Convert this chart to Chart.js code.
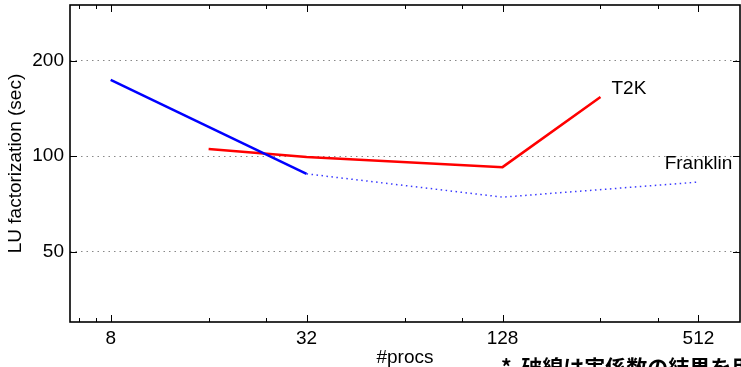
<!DOCTYPE html>
<html><head><meta charset="utf-8">
<script src="https://cdn.jsdelivr.net/npm/chart.js@4/dist/chart.umd.min.js"></script>
<style>html,body{margin:0;padding:0;background:#fff;overflow:hidden;}#wrap{width:741px;height:367px;position:relative;}</style>
</head><body><div id="wrap"><canvas id="c" width="741" height="367"></canvas></div>
<script>
const franklinProcs = [8, 32, 128, 512];
const franklinTimes = [174, 88, 74.3, 82.9];
const t2kProcs = [16, 32, 128, 256];
const t2kTimes = [105.4, 99.5, 92.4, 153.7];
const xTickValues = [8, 32, 128, 512];
const xMinorTickValues = [6.4, 7.2, 16, 24, 64, 96, 256, 384];
const yTickValues = [50, 100, 200];
const seriesNames = ['Franklin', 'T2K'];
const xTitle = '#procs';
const yTitle = 'LU factorization (sec)';
const note = '*  破線は実係数の結果を用いた';

const FONT = '"Liberation Sans", Arial, sans-serif';

const frameAxes = {
  id: 'frameAxes',
  afterDraw(chart) {
    const {ctx, chartArea: a, scales: {x, y}} = chart;
    ctx.save();
    ctx.strokeStyle = '#000';
    ctx.lineWidth = 1;
    const seg = (x0, y0, x1, y1) => { ctx.beginPath(); ctx.moveTo(x0, y0); ctx.lineTo(x1, y1); ctx.stroke(); };
    xTickValues.forEach(v => { const p = Math.round(x.getPixelForValue(v)) + 0.5; seg(p, a.bottom, p, a.bottom - 7); seg(p, a.top, p, a.top + 7); });
    xMinorTickValues.forEach(v => { const p = Math.round(x.getPixelForValue(v)) + 0.5; seg(p, a.bottom, p, a.bottom - 4); seg(p, a.top, p, a.top + 4); });
    yTickValues.forEach(v => { const p = Math.round(y.getPixelForValue(v)) + 0.5; seg(a.left, p, a.left + 7, p); seg(a.right, p, a.right - 7, p); });
    ctx.lineWidth = 1.6;
    ctx.strokeRect(a.left, a.top, a.right - a.left, a.bottom - a.top);

    ctx.fillStyle = '#000';
    ctx.font = '19px ' + FONT;
    ctx.textBaseline = 'middle';
    const tMeta = chart.getDatasetMeta(1).data;
    const tEnd = tMeta[tMeta.length - 1];
    ctx.textAlign = 'left';
    ctx.fillText(seriesNames[1], tEnd.x + 11, tEnd.y - 8);
    const fMeta = chart.getDatasetMeta(0).data;
    const fEnd = fMeta[fMeta.length - 1];
    ctx.textAlign = 'center';
    ctx.fillText(seriesNames[0], fEnd.x, fEnd.y - 18);

    ctx.font = 'bold 21px "Noto Sans CJK JP", sans-serif';
    ctx.textAlign = 'left';
    ctx.textBaseline = 'top';
    ctx.fillText(note, 501, 357);
    ctx.restore();
  }
};

new Chart(document.getElementById('c'), {
  type: 'line',
  data: {
    datasets: [
      {
        label: seriesNames[0],
        data: franklinProcs.map((p, i) => ({x: p, y: franklinTimes[i]})),
        borderColor: '#0000ff',
        borderWidth: 2.5,
        pointRadius: 0,
        segment: {
          borderDash: c => c.p0DataIndex >= 1 ? [1.5, 3.5] : undefined,
          borderWidth: c => c.p0DataIndex >= 1 ? 1.5 : undefined,
          borderColor: c => c.p0DataIndex >= 1 ? '#3a3aff' : undefined
        }
      },
      {
        label: seriesNames[1],
        data: t2kProcs.map((p, i) => ({x: p, y: t2kTimes[i]})),
        borderColor: '#ff0000',
        borderWidth: 2.5,
        pointRadius: 0
      }
    ]
  },
  options: {
    responsive: false,
    animation: false,
    devicePixelRatio: 1,
    layout: {padding: {top: 5, right: 1, left: 0, bottom: 0}},
    plugins: {legend: {display: false}, tooltip: {enabled: false}},
    scales: {
      x: {
        type: 'logarithmic',
        min: 6, max: 687,
        afterBuildTicks: s => { s.ticks = xTickValues.map(v => ({value: v})); },
        afterFit: s => { s.height = 45; s.paddingLeft = 0; s.paddingRight = 0; },
        grid: {display: false},
        border: {display: false},
        ticks: {color: '#000', font: {family: FONT, size: 19}, padding: -3, maxRotation: 0, autoSkip: false, callback: v => String(v)},
        title: {display: true, text: xTitle, color: '#000', font: {family: FONT, size: 19}, padding: {top: 0, bottom: -2}}
      },
      y: {
        type: 'logarithmic',
        min: 30, max: 300,
        afterBuildTicks: s => { s.ticks = yTickValues.map(v => ({value: v})); },
        afterFit: s => { s.width = 70; s.paddingTop = 0; s.paddingBottom = 0; },
        grid: {color: '#888', lineWidth: 1, drawTicks: false},
        border: {display: false, dash: [1.5, 4]},
        ticks: {color: '#000', font: {family: FONT, size: 19}, padding: 6, callback: v => String(v)},
        title: {display: true, text: yTitle, color: '#000', font: {family: FONT, size: 19}, padding: {top: 4, bottom: 0}}
      }
    }
  },
  plugins: [frameAxes]
});
</script>
</body></html>
